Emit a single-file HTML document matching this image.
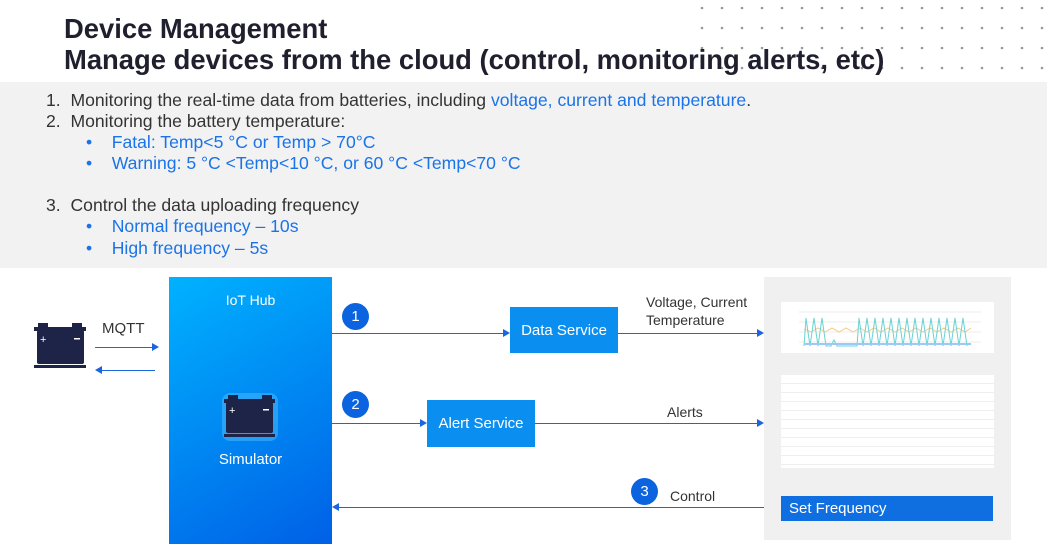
<!DOCTYPE html>
<html><head><style>
body{margin:0;width:1047px;height:553px;position:relative;overflow:hidden;background:#fff;font-family:"Liberation Sans",sans-serif}
.a{position:absolute}
h1{position:absolute;left:64px;top:13px;margin:0;font-size:27.4px;line-height:31px;font-weight:bold;color:#1f1f2e}
.band{left:0;top:82px;width:1047px;height:186px;background:#f2f2f2}
.t{font-size:17.6px;color:#333;line-height:21px}
.b{color:#1a73e8}
.box{color:#fff;font-size:15px;display:flex;align-items:center;justify-content:center}
.c{width:27px;height:27px;border-radius:50%;background:#0b63e0;color:#fff;font-size:15px;display:flex;align-items:center;justify-content:center}
.l{height:1px;background:#1a66e0}
</style></head><body>
<svg class="a" style="left:690px;top:0" width="357" height="82">
<defs><pattern id="p" width="20" height="20" patternUnits="userSpaceOnUse"><circle cx="12" cy="8" r="1.3" fill="#999"/></pattern></defs>
<rect width="357" height="82" fill="url(#p)"/></svg>
<h1>Device Management<br>Manage devices from the cloud (control, monitoring alerts, etc)</h1>
<div class="a band"></div>
<div class="a t" style="left:46px;top:90px">1.&nbsp;&nbsp;Monitoring the real-time data from batteries, including <span class="b">voltage, current and temperature</span>.</div>
<div class="a t" style="left:46px;top:111px">2.&nbsp;&nbsp;Monitoring the battery temperature:</div>
<div class="a t b" style="left:86px;top:132px">•&nbsp;&nbsp;&nbsp;&nbsp;Fatal: Temp&lt;5 °C or Temp &gt; 70°C</div>
<div class="a t b" style="left:86px;top:153px">•&nbsp;&nbsp;&nbsp;&nbsp;Warning: 5 °C &lt;Temp&lt;10 °C, or 60 °C &lt;Temp&lt;70 °C</div>
<div class="a t" style="left:46px;top:195px">3.&nbsp;&nbsp;Control the data uploading frequency</div>
<div class="a t b" style="left:86px;top:216px">•&nbsp;&nbsp;&nbsp;&nbsp;Normal frequency – 10s</div>
<div class="a t b" style="left:86px;top:238px">•&nbsp;&nbsp;&nbsp;&nbsp;High frequency – 5s</div>

<svg class="a" style="left:34px;top:323px" width="54" height="46"><rect x="3" y="7" width="47" height="34" rx="2" fill="#1e2448"/><rect x="0" y="4" width="52" height="4" fill="#1e2448"/><rect x="4" y="0" width="10" height="5" fill="#1e2448"/><rect x="38" y="0" width="10" height="5" fill="#1e2448"/><rect x="0" y="42" width="52" height="3" fill="#1e2448"/><text x="6" y="20" fill="#fff" font-size="11">+</text><rect x="40" y="15" width="6" height="1.5" fill="#fff"/></svg>
<div class="a t" style="left:102px;top:318px;font-size:15px">MQTT</div>
<div class="a l" style="left:95px;top:347px;width:60px"></div><div class="a" style="left:152px;top:343px;border-left:7px solid #1a66e0;border-top:4px solid transparent;border-bottom:4px solid transparent"></div>
<div class="a l" style="left:100px;top:370px;width:55px"></div><div class="a" style="left:95px;top:366px;border-right:7px solid #1a66e0;border-top:4px solid transparent;border-bottom:4px solid transparent"></div>

<div class="a" style="left:169px;top:277px;width:163px;height:267px;background:linear-gradient(150deg,#00b2ff,#0060e6)"></div>
<div class="a" style="left:169px;top:292px;width:163px;text-align:center;color:#fff;font-size:14px">IoT Hub</div>
<svg class="a" style="left:222px;top:393px" width="56" height="48"><rect x="0" y="0" width="56" height="48" rx="8" fill="#6fd3ff" opacity=".35"/><rect x="4" y="9" width="47" height="31" rx="2" fill="#1e2448"/><rect x="2" y="6" width="51" height="4" fill="#1e2448"/><rect x="6" y="2" width="10" height="5" fill="#1e2448"/><rect x="40" y="2" width="10" height="5" fill="#1e2448"/><rect x="2" y="41" width="51" height="3" fill="#1e2448"/><text x="7" y="21" fill="#fff" font-size="11">+</text><rect x="41" y="16" width="6" height="1.5" fill="#fff"/></svg>
<div class="a" style="left:169px;top:451px;width:163px;text-align:center;color:#fff;font-size:15px">Simulator</div>

<div class="a c" style="left:342px;top:303px">1</div>
<div class="a c" style="left:342px;top:391px">2</div>
<div class="a c" style="left:631px;top:478px">3</div>

<div class="a l" style="left:332px;top:333px;width:172px"></div><div class="a" style="left:503px;top:329px;border-left:7px solid #1a66e0;border-top:4px solid transparent;border-bottom:4px solid transparent"></div>
<div class="a box" style="left:510px;top:307px;width:108px;height:46px;background:#0a8ef0">Data Service</div>
<div class="a l" style="left:618px;top:333px;width:140px"></div><div class="a" style="left:757px;top:329px;border-left:7px solid #1a66e0;border-top:4px solid transparent;border-bottom:4px solid transparent"></div>
<div class="a t" style="left:646px;top:293px;font-size:14px;line-height:18px">Voltage, Current<br>Temperature</div>

<div class="a l" style="left:332px;top:423px;width:89px"></div><div class="a" style="left:420px;top:419px;border-left:7px solid #1a66e0;border-top:4px solid transparent;border-bottom:4px solid transparent"></div>
<div class="a box" style="left:427px;top:400px;width:108px;height:47px;background:#0a8ef0">Alert Service</div>
<div class="a l" style="left:535px;top:423px;width:223px"></div><div class="a" style="left:757px;top:419px;border-left:7px solid #1a66e0;border-top:4px solid transparent;border-bottom:4px solid transparent"></div>
<div class="a t" style="left:667px;top:402px;font-size:14px">Alerts</div>

<div class="a t" style="left:670px;top:486px;font-size:14px">Control</div>
<div class="a l" style="left:338px;top:507px;width:426px"></div><div class="a" style="left:332px;top:503px;border-right:7px solid #1a66e0;border-top:4px solid transparent;border-bottom:4px solid transparent"></div>

<div class="a" style="left:764px;top:277px;width:247px;height:263px;background:#f0f0f0"></div>
<svg class="a" style="left:781px;top:302px" width="213" height="51"><rect width="213" height="51" fill="#fff"/>
<g stroke="#eee"><line x1="18" y1="10" x2="200" y2="10"/><line x1="18" y1="20" x2="200" y2="20"/><line x1="18" y1="30" x2="200" y2="30"/><line x1="18" y1="40" x2="200" y2="40"/></g>
<polyline fill="none" stroke="#f5c98c" points="23,27 30,30 37,26 44,30 51,26 58,30 65,26 72,30 79,26 86,30 93,26 100,30 107,26 114,30 121,26 128,30 135,26 142,30 149,26 156,30 163,26 170,30 177,26 184,30 190,26"/>
<polyline fill="none" stroke="#6ad3d3" points="23,44 25,16 29,44 33,16 37,44 41,16 45,44 50,44 53,38 56,44 76,44 78,16 82,44 86,16 90,44 94,16 98,44 102,16 106,44 110,16 114,44 118,16 122,44 126,16 130,44 134,16 138,44 142,16 146,44 150,16 154,44 158,16 162,44 166,16 170,44 174,16 178,44 182,16 186,44"/>
<line x1="23" y1="42" x2="190" y2="42" stroke="#9cc8f5" stroke-width="2"/></svg>
<div class="a" style="left:781px;top:375px;width:213px;height:93px;background:#fff;background-image:repeating-linear-gradient(#fff 0 8px,#eee 8px 9px)"></div>
<div class="a box" style="left:781px;top:496px;width:212px;height:25px;background:#0f6ee0;justify-content:flex-start;padding-left:8px;box-sizing:border-box">Set Frequency</div>
</body></html>
